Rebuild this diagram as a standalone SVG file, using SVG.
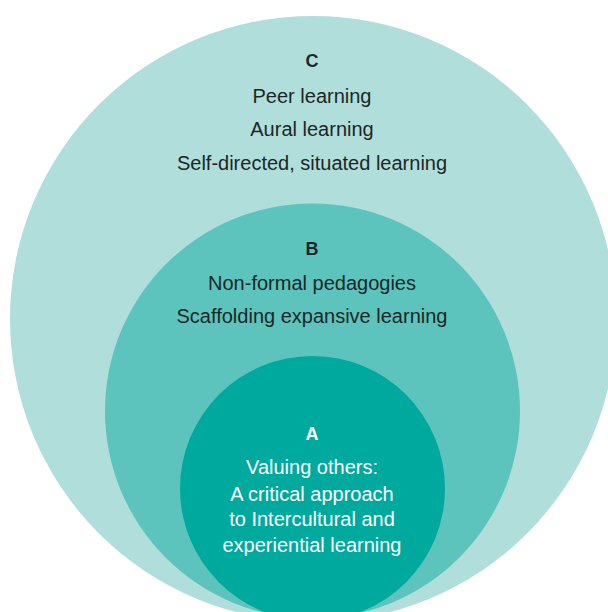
<svg xmlns="http://www.w3.org/2000/svg" width="608" height="612" viewBox="0 0 608 612">
  <style>
    .t { font-family: "Liberation Sans", Arial, sans-serif; font-size: 20px; text-anchor: middle; fill: #1b2727; }
    .h { font-family: "Liberation Sans", Arial, sans-serif; font-size: 18px; font-weight: bold; text-anchor: middle; fill: #1b2727; }
    .w { fill: #ffffff; }
  </style>
  <rect width="608" height="612" fill="#ffffff"/>
  <g id="C">
    <circle cx="313" cy="319" r="303" fill="#b0dedb"/>
    <text class="h" x="312" y="67">C</text>
    <text class="t" x="312" y="103">Peer learning</text>
    <text class="t" x="312" y="136">Aural learning</text>
    <text class="t" x="312" y="169.5">Self-directed, situated learning</text>
  </g>
  <g id="B">
    <circle cx="312.5" cy="411" r="207.5" fill="#5cc4bc"/>
    <text class="h" x="312" y="255">B</text>
    <text class="t" x="312" y="289.5">Non-formal pedagogies</text>
    <text class="t" x="312" y="323">Scaffolding expansive learning</text>
  </g>
  <g id="A">
    <circle cx="312.5" cy="488.5" r="132.5" fill="#00a99d"/>
    <text class="h w" x="312" y="440">A</text>
    <text class="t w" x="312" y="474">Valuing others:</text>
    <text class="t w" x="312" y="500.5">A critical approach</text>
    <text class="t w" x="312" y="526">to Intercultural and</text>
    <text class="t w" x="312" y="552">experiential learning</text>
  </g>
  <g id="connectors"/>
</svg>
